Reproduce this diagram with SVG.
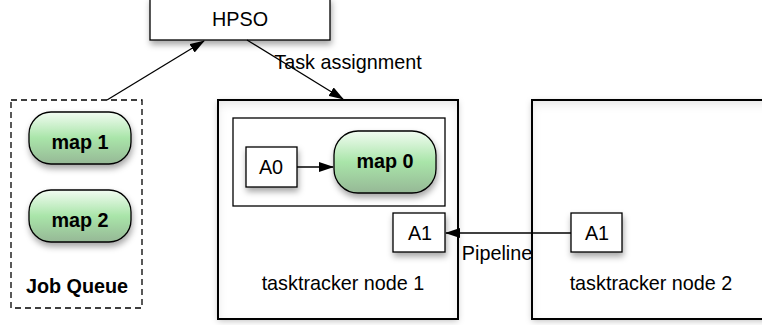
<svg xmlns="http://www.w3.org/2000/svg" width="762" height="325" viewBox="0 0 762 325">
<defs>
<linearGradient id="g" x1="0" y1="0" x2="0" y2="1">
<stop offset="0" stop-color="#f2fcf2"/>
<stop offset="0.5" stop-color="#a9e5a9"/>
<stop offset="1" stop-color="#96b896"/>
</linearGradient>
<filter id="sh" x="-20%" y="-20%" width="150%" height="160%">
<feDropShadow dx="1" dy="4" stdDeviation="3" flood-color="#000" flood-opacity="0.35"/>
</filter>
<filter id="ish" x="-10%" y="-10%" width="120%" height="120%">
<feDropShadow dx="0" dy="2" stdDeviation="3" flood-color="#000" flood-opacity="0.25"/>
</filter>
<filter id="inset" x="-10%" y="-10%" width="120%" height="120%">
<feFlood flood-color="#000" flood-opacity="0.22"/>
<feComposite in2="SourceAlpha" operator="out"/>
<feGaussianBlur stdDeviation="5"/>
<feOffset dx="0" dy="4"/>
<feComposite in2="SourceAlpha" operator="in" result="s"/>
<feMerge><feMergeNode in="SourceGraphic"/><feMergeNode in="s"/></feMerge>
</filter>
<marker id="ah" markerWidth="15" markerHeight="10" refX="14" refY="5" orient="auto" markerUnits="userSpaceOnUse">
<path d="M0,0 L15,5 L0,10 Z" fill="#000"/>
</marker>
<style>
.box{fill:#fff;stroke:#000;stroke-width:1.3}
.big{fill:none;stroke:#000;stroke-width:2}
.bigfill{fill:#fff}
.pill{fill:url(#g);stroke:#000;stroke-width:1.3}
.t{font-family:"Liberation Sans",Arial,sans-serif;font-size:19.8px;fill:#000;text-anchor:middle}
.b{font-weight:bold}
.c{stroke:#000;stroke-width:1.3;fill:none}
</style>
</defs>
<g id="hpso">
<rect class="box" x="150" y="-2" width="180" height="42" filter="url(#sh)"/>
<text class="t" x="240" y="26">HPSO</text>
</g>
<g id="jobqueue">
<rect x="11" y="100" width="131" height="208" fill="#fff" stroke="#000" stroke-width="1.3" stroke-dasharray="6,4"/>
<text class="t b" x="77" y="293">Job Queue</text>
</g>
<g id="map1">
<rect class="pill" x="29" y="112" width="102" height="52" rx="22" ry="22" filter="url(#sh)"/>
<text class="t b" x="80" y="149">map 1</text>
</g>
<g id="map2">
<rect class="pill" x="29" y="190" width="102" height="52" rx="22" ry="22" filter="url(#sh)"/>
<text class="t b" x="80" y="227">map 2</text>
</g>
<g id="node1">
<rect class="bigfill" x="218" y="100" width="240" height="219" filter="url(#ish)"/>
<rect class="bigfill" x="218" y="100" width="240" height="219" filter="url(#inset)"/>
<rect class="big" x="218" y="100" width="240" height="219"/>
<text class="t" x="343" y="290">tasktracker node 1</text>
</g>
<g id="slot">
<rect class="box" x="233" y="118" width="212" height="88"/>
</g>
<g id="a0">
<rect class="box" x="246" y="147" width="51" height="40" filter="url(#sh)"/>
<text class="t" x="271" y="174">A0</text>
</g>
<g id="map0">
<rect class="pill" x="334" y="131" width="102" height="62" rx="24" ry="24" filter="url(#sh)"/>
<text class="t b" x="385" y="168">map 0</text>
</g>
<g id="a1n1">
<rect class="box" x="393" y="213" width="52" height="39" filter="url(#sh)"/>
<text class="t" x="420" y="240">A1</text>
</g>
<g id="node2">
<rect class="bigfill" x="532" y="100" width="240" height="219" filter="url(#ish)"/>
<rect class="bigfill" x="532" y="100" width="240" height="219" filter="url(#inset)"/>
<rect class="big" x="532" y="100" width="240" height="219"/>
<text class="t" x="651" y="290">tasktracker node 2</text>
</g>
<g id="a1n2">
<rect class="box" x="571" y="213" width="51" height="39" filter="url(#sh)"/>
<text class="t" x="597" y="240">A1</text>
</g>
<g id="connectors">
<line class="c" x1="107" y1="100" x2="204" y2="41" marker-end="url(#ah)"/>
<line class="c" x1="247" y1="40" x2="343" y2="99" marker-end="url(#ah)"/>
<text class="t" x="348" y="69">Task assignment</text>
<line class="c" x1="297" y1="167" x2="333" y2="167" marker-end="url(#ah)"/>
<line class="c" x1="571" y1="233" x2="446" y2="233" marker-end="url(#ah)"/>
<text class="t" x="497" y="260">Pipeline</text>
</g>
</svg>
